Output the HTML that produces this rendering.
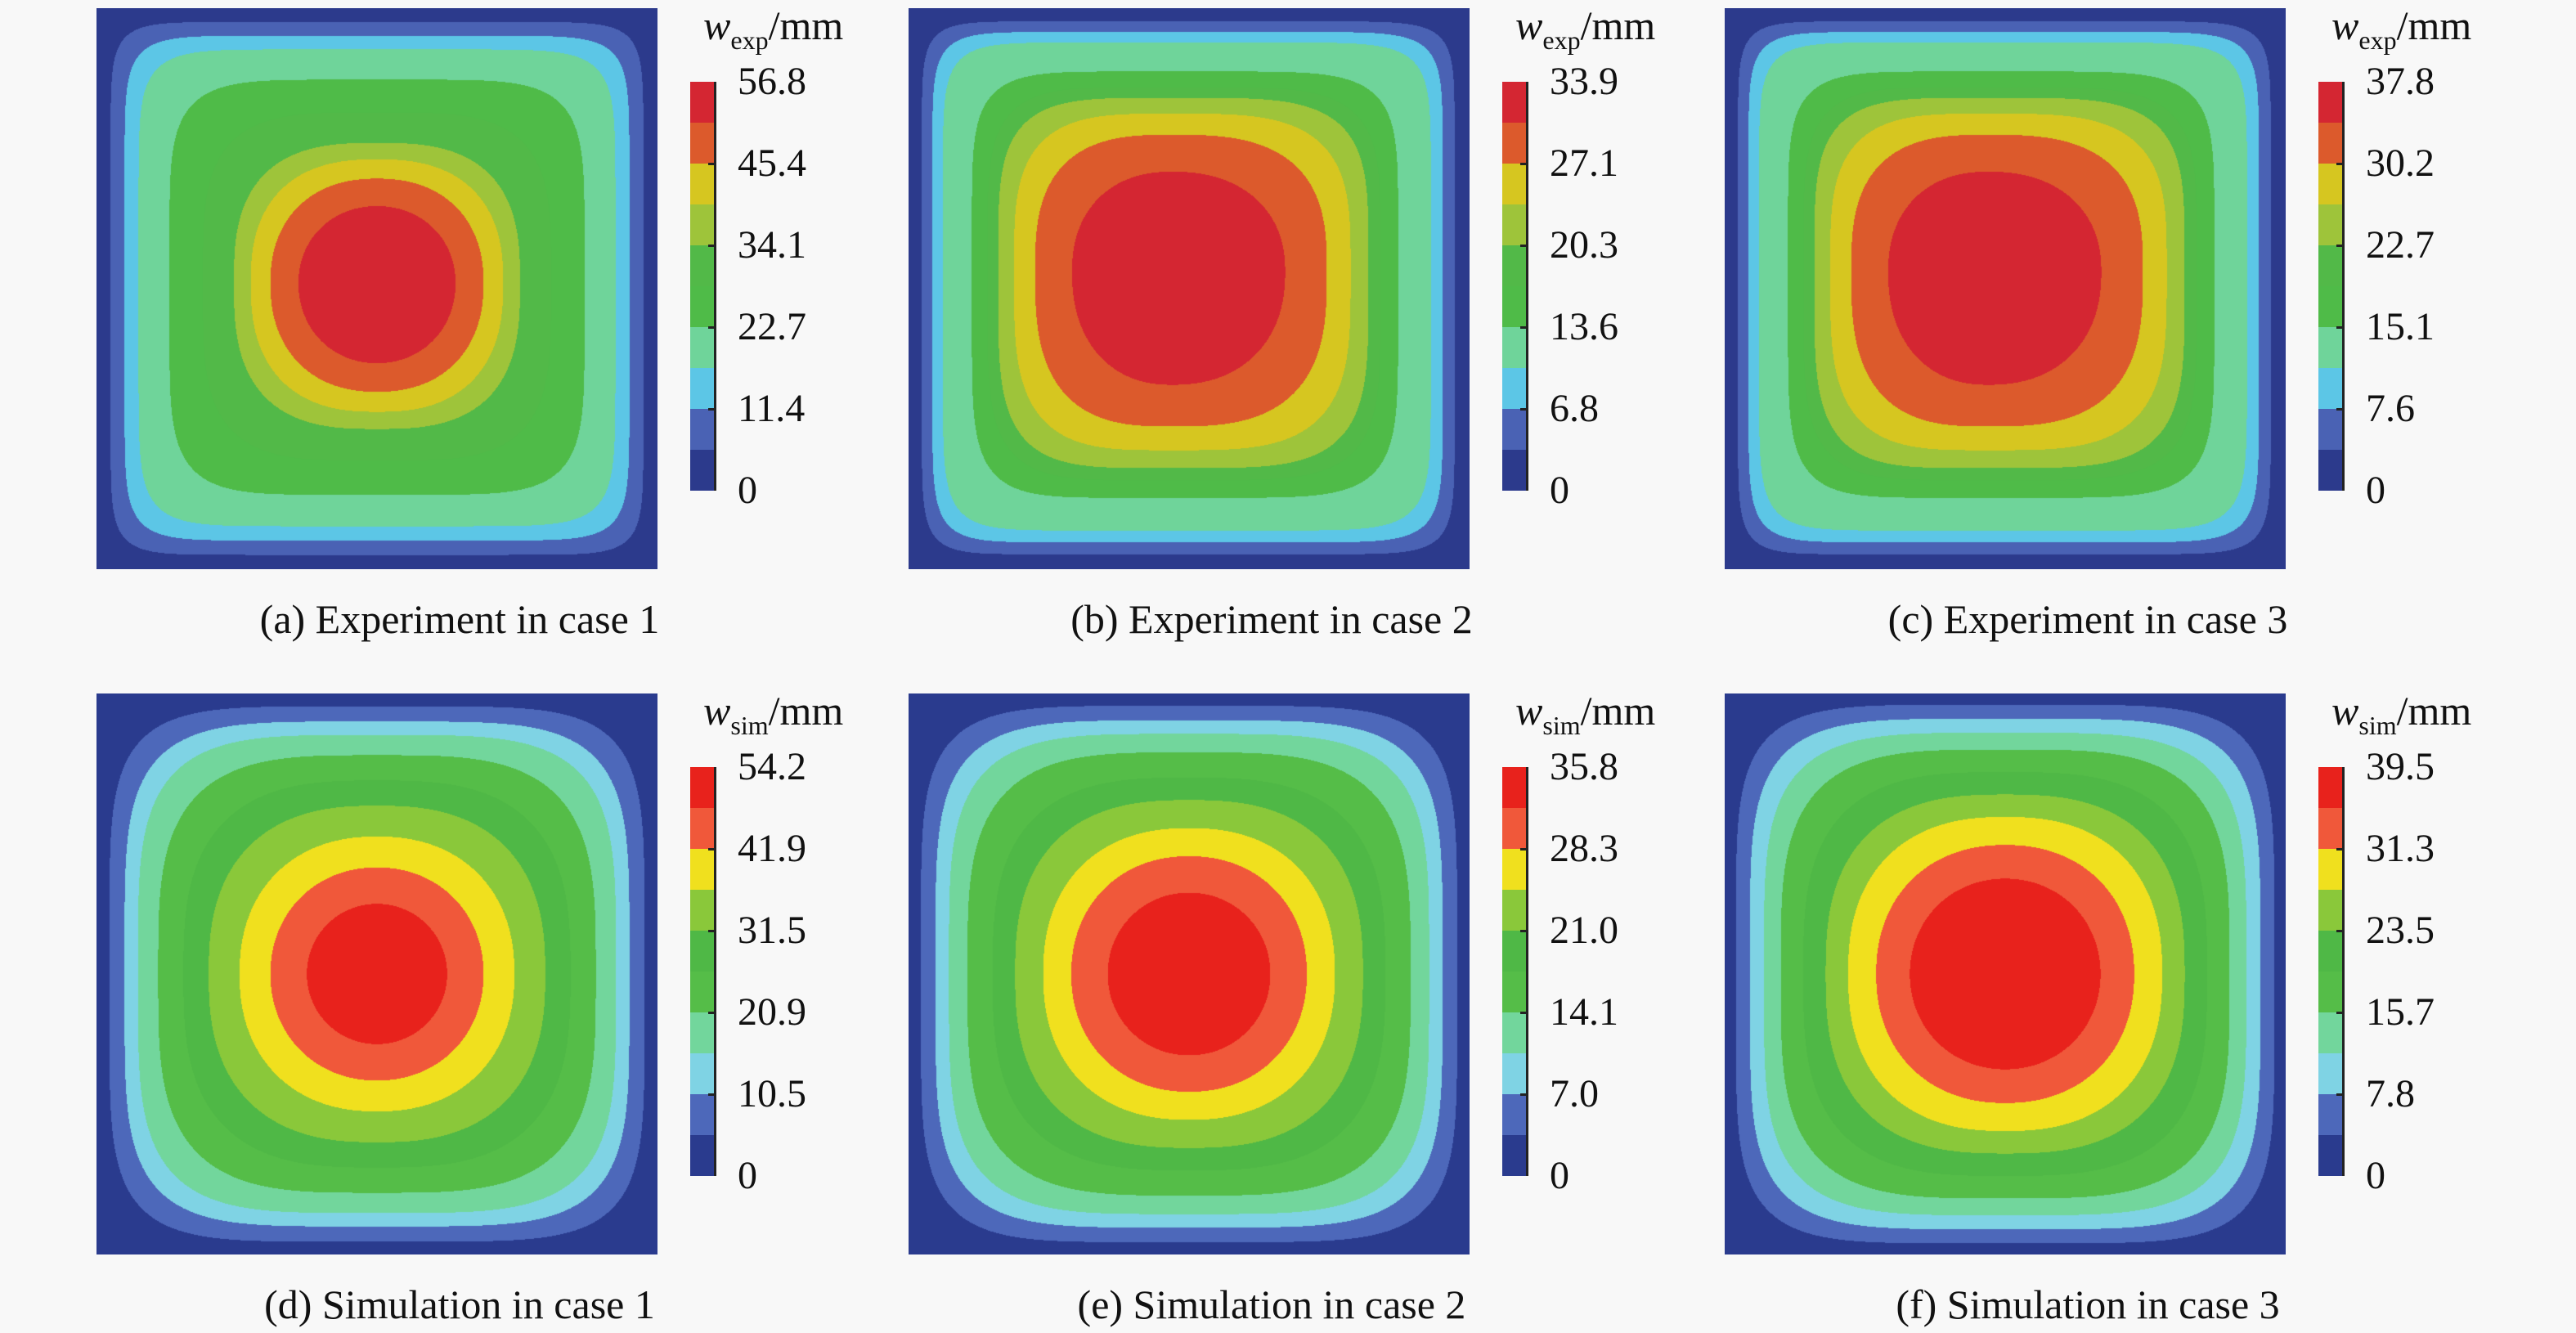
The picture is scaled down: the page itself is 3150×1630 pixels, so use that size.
<!DOCTYPE html>
<html><head><meta charset="utf-8"><style>
body{margin:0;background:#f8f8f8;}
#root{position:relative;width:3150px;height:1630px;overflow:hidden;background:#f8f8f8;font-family:"Liberation Serif","DejaVu Serif","Times New Roman",serif;color:#111;}
.abs{position:absolute;}
.tick{position:absolute;font-size:48px;line-height:48px;transform:translateY(-50%);}
.title{position:absolute;font-size:50px;line-height:50px;white-space:nowrap;}
.title i{font-style:italic;}
.title sub{font-size:32px;vertical-align:-12px;}
.cap{position:absolute;font-size:50px;line-height:50px;white-space:nowrap;transform:translateX(-50%);}
.cb{position:absolute;width:32px;box-sizing:border-box;border-right:3px solid #222;}
</style></head><body>
<div id="root"></div>
<script>
// ---- data ----
const panelIds = ["a","b","c","d","e","f"];
const captions = ["(a) Experiment in case 1","(b) Experiment in case 2","(c) Experiment in case 3","(d) Simulation in case 1","(e) Simulation in case 2","(f) Simulation in case 3"];
const kinds = ["exp","exp","exp","sim","sim","sim"];
const tickA = ["56.8","45.4","34.1","22.7","11.4","0"];
const tickB = ["33.9","27.1","20.3","13.6","6.8","0"];
const tickC = ["37.8","30.2","22.7","15.1","7.6","0"];
const tickD = ["54.2","41.9","31.5","20.9","10.5","0"];
const tickE = ["35.8","28.3","21.0","14.1","7.0","0"];
const tickF = ["39.5","31.3","23.5","15.7","7.8","0"];
// distance from edge (fraction of width) at which level 0,0.1,...,1 is reached along the midline
const profA = [0,0.025,0.05,0.075,0.13,0.19,0.245,0.275,0.31,0.36,0.5];
const profB = [0,0.025,0.045,0.065,0.12,0.15,0.17,0.2,0.24,0.31,0.5];
const profC = [0,0.025,0.045,0.065,0.12,0.15,0.17,0.2,0.24,0.31,0.5];
const profD = [0,0.023,0.05,0.074,0.11,0.155,0.2,0.255,0.31,0.375,0.5];
const profE = [0,0.022,0.048,0.072,0.105,0.15,0.19,0.24,0.29,0.355,0.5];
const profF = [0,0.02,0.045,0.07,0.1,0.14,0.18,0.22,0.27,0.33,0.5];
const centerX = [0.5,0.47,0.47,0.5,0.5,0.5];
const centerY = [0.49,0.47,0.47,0.5,0.5,0.5];
const squareness = [12,12,12,4,4,4];
const squarePow = [4,4,4,4,4,4];
const palExp = ["#2c3a8c","#4a62b4","#5cc6e6","#6fd49a","#4fbb48","#52b948","#9ec43a","#d6c620","#dc5a2c","#d42632"];
const palSim = ["#2a3b8e","#4d68ba","#7fd3e4","#72d69c","#55bd48","#4fb846","#8ac83a","#f0e01e","#f0583a","#e8221c"];
const ticksAll = [tickA,tickB,tickC,tickD,tickE,tickF];
const profAll = [profA,profB,profC,profD,profE,profF];

// ---- layout ----
const colX = [118,1111,2109];
const rowY = [10,848];
const PS = 686;
const root = document.getElementById('root');

function level(p,d){
  if(d>=0.5) return 1;
  if(d<=0) return 0;
  for(let i=0;i<p.length-1;i++){
    if(d<=p[i+1]) return (i + (d-p[i])/(p[i+1]-p[i]))/10;
  }
  return 1;
}

panelIds.forEach((id,k)=>{
  const col=k%3,row=Math.floor(k/3);
  const x0=colX[col],y0=rowY[row];
  const pal = kinds[k]==="exp"?palExp:palSim;
  const cv=document.createElement('canvas');
  cv.width=PS;cv.height=PS;cv.className='abs';
  cv.style.left=x0+'px';cv.style.top=y0+'px';
  
  
  root.appendChild(cv);
  const ctx=cv.getContext('2d');
  const img=ctx.createImageData(PS,PS);
  const rgb=pal.map(h=>[parseInt(h.slice(1,3),16),parseInt(h.slice(3,5),16),parseInt(h.slice(5,7),16)]);
  const p=profAll[k],cx=centerX[k],cy=centerY[k],sq=squareness[k],sp=squarePow[k];
  for(let j=0;j<PS;j++){
    const v=(j+0.5)/PS;
    const ry = v<cy ? (cy-v)/cy : (v-cy)/(1-cy);
    for(let i=0;i<PS;i++){
      const u=(i+0.5)/PS;
      const rx = u<cx ? (cx-u)/cx : (u-cx)/(1-cx);
      const rinf=Math.max(rx,ry);
      let r=rinf;
      if(rinf>1e-6){
        // solve (rx/r)^q(r) + (ry/r)^q(r) = 1 with q(r)=2+sq*r^sp
        let lo=rinf, hi=Math.sqrt(rx*rx+ry*ry);
        for(let it=0;it<16;it++){
          const m=(lo+hi)/2;
          const q=2+sq*Math.pow(Math.min(m,1.2),sp);
          const f=Math.pow(rx/m,q)+Math.pow(ry/m,q);
          if(f>1) lo=m; else hi=m;
        }
        r=(lo+hi)/2;
      }
      const d=(1-r)/2;
      const val=level(p,d);
      let b=Math.floor(val*10);if(b>9)b=9;if(b<0)b=0;
      const c=rgb[b],o=(j*PS+i)*4;
      img.data[o]=c[0];img.data[o+1]=c[1];img.data[o+2]=c[2];img.data[o+3]=255;
    }
  }
  ctx.putImageData(img,0,0);

  // colorbar
  const cbTop=y0+90,cbH=500,cbX=x0+726;
  const cb=document.createElement('div');
  cb.className='cb';cb.style.left=cbX+'px';cb.style.top=cbTop+'px';cb.style.height=cbH+'px';
  cb.style.background='linear-gradient(to bottom,'+pal.slice().reverse().map((c,i)=>c+' '+(i*10)+'% '+((i+1)*10)+'%').join(',')+')';
  
  
  root.appendChild(cb);
  ticksAll[k].forEach((t,i)=>{
    const ty=cbTop+i*cbH/5;
    const tl=document.createElement('div');
    tl.className='tick';tl.style.left=(cbX+58)+'px';tl.style.top=ty+'px';tl.textContent=t;
    
    
    root.appendChild(tl);
    if(i>0&&i<5){
      const tm=document.createElement('div');
      tm.className='abs';tm.style.left=(cbX+22)+'px';tm.style.top=(ty-1)+'px';tm.style.width='10px';tm.style.height='3px';tm.style.background='#222';
      
      
      root.appendChild(tm);
    }
  });
  const ti=document.createElement('div');
  ti.className='title';ti.style.left=(cbX+16)+'px';ti.style.top=(y0-4)+'px';
  ti.innerHTML='<i>w</i><sub>'+kinds[k]+'</sub>/mm';
  
  
  root.appendChild(ti);
  const cp=document.createElement('div');
  cp.className='cap';cp.style.left=(x0+444)+'px';cp.style.top=(y0+722)+'px';cp.textContent=captions[k];
  
  
  root.appendChild(cp);
});
</script>
</body></html>
